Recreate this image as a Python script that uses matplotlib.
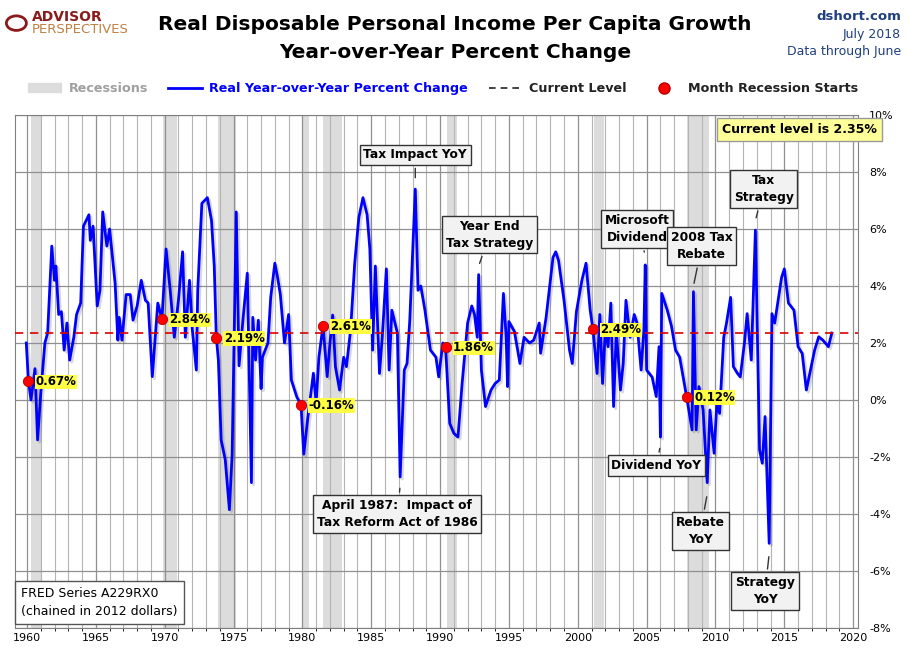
import numpy as np
import matplotlib.pyplot as plt
import matplotlib.patheffects as pe
from matplotlib.lines import Line2D
from matplotlib.patches import Patch

# ---- data ----
yrs = [1959.95,1960.1,1960.29,1960.58,1960.77,1961.0,1961.3,1961.5,1961.8,1962.0,1962.1,1962.3,1962.5,1962.7,1962.9,
       1963.1,1963.4,1963.6,1963.9,1964.1,1964.5,1964.6,1964.8,1965.1,1965.3,1965.5,1965.8,1966.0,1966.4,1966.6,1966.7,
       1966.9,1967.2,1967.5,1967.7,1968.0,1968.3,1968.6,1968.8,1969.1,1969.5,1969.8,1970.1,1970.4,1970.7,1971.0,1971.3,
       1971.5,1971.8,1972.0,1972.3,1972.4,1972.7,1972.9,1973.1,1973.4,1973.6,1973.75,1973.9,1974.1,1974.4,1974.7,1974.9,
       1975.2,1975.4,1975.7,1976.0,1976.3,1976.4,1976.6,1976.8,1977.0,1977.1,1977.5,1977.7,1978.0,1978.2,1978.4,1978.7,
       1979.0,1979.2,1979.6,1979.9,1980.1,1980.4,1980.8,1981.0,1981.2,1981.5,1981.8,1982.0,1982.2,1982.4,1982.7,1983.0,
       1983.2,1983.5,1983.8,1984.1,1984.4,1984.7,1984.9,1985.1,1985.3,1985.6,1985.8,1986.1,1986.3,1986.5,1986.9,1987.1,
       1987.4,1987.6,1987.8,1988.2,1988.4,1988.6,1988.9,1989.3,1989.7,1989.9,1990.2,1990.4,1990.7,1991.0,1991.3,1991.6,
       1992.0,1992.3,1992.5,1992.7,1992.8,1993.0,1993.3,1993.7,1994.0,1994.3,1994.6,1994.8,1994.9,1995.0,1995.4,1995.8,
       1996.1,1996.5,1996.8,1997.2,1997.3,1997.7,1998.2,1998.4,1998.6,1999.0,1999.4,1999.6,1999.9,2000.3,2000.6,2000.9,
       2001.1,2001.4,2001.6,2001.8,2002.0,2002.2,2002.4,2002.6,2002.8,2003.1,2003.3,2003.5,2003.8,2004.1,2004.3,2004.6,
       2004.8,2004.9,2005.0,2005.4,2005.7,2005.9,2006.0,2006.1,2006.5,2006.8,2007.1,2007.4,2007.9,2008.3,2008.4,2008.6,
       2008.8,2009.1,2009.4,2009.6,2009.9,2010.1,2010.3,2010.6,2010.8,2011.1,2011.3,2011.6,2011.8,2012.1,2012.3,2012.6,
       2012.9,2013.2,2013.4,2013.6,2013.9,2014.1,2014.3,2014.6,2014.8,2015.0,2015.3,2015.7,2016.0,2016.3,2016.6,2016.9,
       2017.2,2017.5,2017.8,2018.2,2018.45]
vals = [2.0,0.7,0.0,1.1,-1.4,0.23,2.0,2.35,5.4,4.2,4.7,3.0,3.1,1.75,2.7,
        1.4,2.2,3.0,3.4,6.1,6.5,5.6,6.1,3.3,3.85,6.6,5.4,6.0,4.1,2.1,2.9,
        2.1,3.7,3.7,2.8,3.3,4.2,3.5,3.4,0.82,3.4,2.84,5.3,3.85,2.2,3.5,5.2,
        2.2,4.2,2.5,1.05,3.85,6.9,7.0,7.1,6.3,4.7,2.19,1.4,-1.4,-2.1,-3.85,-1.9,
        6.6,1.2,2.9,4.45,-2.9,2.9,1.4,2.8,0.4,1.5,2.0,3.6,4.8,4.3,3.7,2.0,
        3.0,0.7,0.1,-0.16,-1.9,-0.6,0.94,-0.1,1.5,2.61,0.82,1.99,2.98,1.17,0.35,1.5,
        1.17,2.45,4.8,6.4,7.1,6.5,5.3,1.75,4.7,0.93,2.2,4.6,1.05,3.15,2.35,-2.7,
        1.05,1.28,2.8,7.4,3.85,4.0,3.15,1.75,1.5,0.81,2.0,1.86,-0.82,-1.17,-1.3,0.58,
        2.7,3.3,3.0,2.2,4.4,1.05,-0.23,0.35,0.58,0.7,3.74,2.2,0.47,2.75,2.4,1.28,
        2.2,2.0,2.1,2.7,1.64,2.9,5.0,5.2,4.9,3.5,1.75,1.28,3.1,4.2,4.8,3.15,
        2.49,0.93,3.0,0.58,2.45,1.87,3.4,-0.23,2.45,0.35,1.28,3.5,2.2,3.0,2.7,1.05,
        2.45,4.74,1.05,0.8,0.12,1.87,-1.3,3.74,3.15,2.6,1.75,1.5,0.12,-1.05,3.8,-1.05,
        0.47,-0.35,-2.9,-0.35,-1.87,-0.12,-0.47,2.2,2.7,3.6,1.17,0.93,0.81,1.99,3.03,1.4,
        5.96,-1.75,-2.22,-0.58,-5.03,3.03,2.7,3.65,4.3,4.6,3.4,3.15,1.87,1.63,0.35,1.05,
        1.75,2.22,2.1,1.87,2.35]
current = 2.35
recessions = [(1960.3, 1961.1), (1969.9, 1970.9), (1973.9, 1975.2), (1980.0, 1980.5),
              (1981.5, 1982.9), (1990.5, 1991.2), (2001.2, 2001.9), (2007.9, 2009.5)]
start_yrs = [1960.1, 1969.8, 1973.75, 1979.9, 1981.5, 1990.4, 2001.1, 2007.9]
start_vals = [0.67, 2.84, 2.19, -0.16, 2.61, 1.86, 2.49, 0.12]

fig = plt.figure(figsize=(9.1, 6.61), dpi=100)
ax = fig.add_axes([15/910, 1-628/661, (858-15)/910, (628-115)/661])

for a, b in recessions:
    ax.axvspan(a, b, color='#dcdcdc', zorder=0, lw=0)
ax.set_xticks(np.arange(1959, 2021), minor=True)
ax.grid(True, which='minor', axis='x', color='#b4b4b4', lw=0.8, zorder=1)
ax.grid(True, which='major', axis='both', color='#909090', lw=0.9, zorder=1)

ax.plot(yrs, vals, color='#0000ff', lw=2, zorder=3,
        path_effects=[pe.SimpleLineShadow(offset=(1.5, -1.5), alpha=0.15), pe.Normal()])
ax.axhline(current, color='#dd0000', ls=(0, (5, 4)), lw=1.2, zorder=4)
ax.scatter(start_yrs, start_vals, s=55, color='#ff0000', edgecolors='#b00000', lw=0.6, zorder=5)
for x, v in zip(start_yrs, start_vals):
    ax.text(x + 0.55, v - 0.03, f"{v:.2f}%", fontsize=8.5, fontweight='bold', va='center', zorder=6,
            bbox=dict(boxstyle='square,pad=0.05', fc='#ffff44', ec='none'))

ax.set_xlim(1959.13, 2020.35)
ax.set_ylim(-8, 10)
ax.set_xticks(np.arange(1960, 2021, 5))
ax.set_yticks(np.arange(-8, 11, 2))
ax.set_yticklabels([f"{t}%" for t in range(-8, 11, 2)])
ax.yaxis.tick_right()
ax.tick_params(length=0, labelsize=8)
ax.tick_params(axis='y', pad=8)
for s in ax.spines.values():
    s.set_color('#808080')

boxkw = dict(boxstyle='square,pad=0.3', fc='#f2f2f2', ec='#333333', lw=1)
def callout(text, xy, xytext):
    ax.annotate(text, xy=xy, xytext=xytext, ha='center', va='center', fontsize=8.8, fontweight='bold',
                linespacing=1.4, bbox=boxkw, zorder=7,
                arrowprops=dict(arrowstyle='-', color='#333333', lw=1))

callout("Tax Impact YoY", (1988.2, 7.7), (1988.2, 8.6))
callout("Year End\nTax Strategy", (1992.8, 4.7), (1993.6, 5.8))
callout("Microsoft\nDividend", (2004.9, 5.1), (2004.3, 6.0))
callout("2008 Tax\nRebate", (2008.4, 4.0), (2009.0, 5.4))
callout("Tax\nStrategy", (2012.9, 6.3), (2013.5, 7.4))
callout("Dividend YoY", (2006.0, -1.6), (2005.7, -2.3))
callout("Rebate\nYoY", (2009.4, -3.3), (2008.9, -4.6))
callout("Strategy\nYoY", (2013.9, -5.4), (2013.6, -6.7))
callout("April 1987:  Impact of\nTax Reform Act of 1986", (1987.1, -3.0), (1986.9, -4.0))

ax.text(1959.6, -7.55, "FRED Series A229RX0\n(chained in 2012 dollars)", fontsize=9, linespacing=1.5,
        bbox=dict(boxstyle='square,pad=0.5', fc='white', ec='#555555'), zorder=7)
ax.text(2016.1, 9.5, "Current level is 2.35%", fontsize=9, fontweight='bold', ha='center', va='center',
        bbox=dict(boxstyle='square,pad=0.4', fc='#ffff99', ec='#999999'), zorder=7)

# header
fig.text(0.5, 0.963, "Real Disposable Personal Income Per Capita Growth", ha='center', va='center',
         fontsize=14.5, fontweight='bold')
fig.text(0.5, 0.921, "Year-over-Year Percent Change", ha='center', va='center', fontsize=14.5, fontweight='bold')
fig.text(0.99, 0.975, "dshort.com", ha='right', va='center', fontsize=9.5, color='#1f3f7f', fontweight='bold')
fig.text(0.99, 0.948, "July 2018", ha='right', va='center', fontsize=9, color='#1f3f7f')
fig.text(0.99, 0.922, "Data through June", ha='right', va='center', fontsize=9, color='#1f3f7f')
fig.text(0.035, 0.975, "ADVISOR", ha='left', va='center', fontsize=10, color='#8b1a1a', fontweight='bold')
fig.text(0.035, 0.955, "PERSPECTIVES", ha='left', va='center', fontsize=9.5, color='#c08040')
fig.patches.append(plt.Circle((0.018, 0.965), 0.011, transform=fig.transFigure, color='#8b1a1a', fill=False, lw=2))

handles = [Patch(color='#dcdcdc', label='Recessions'),
           Line2D([0], [0], color='#0000ff', lw=2, label='Real Year-over-Year Percent Change'),
           Line2D([0], [0], color='#222222', ls=(0, (4, 3)), lw=1.2, label='Current Level'),
           Line2D([0], [0], marker='o', color='none', markerfacecolor='#ff0000', markeredgecolor='#b00000',
                  markersize=8, label='Month Recession Starts')]
leg = fig.legend(handles=handles, loc='center', bbox_to_anchor=(0.487, 0.866), ncol=4, frameon=False,
                 handlelength=2.6, handletextpad=0.6, columnspacing=1.6, prop={'weight': 'bold', 'size': 9.2})
cols = ['#a0a0a0', '#0000ff', '#222222', '#222222']
for t, c in zip(leg.get_texts(), cols):
    t.set_color(c)

fig.savefig("out.png", dpi=100)
